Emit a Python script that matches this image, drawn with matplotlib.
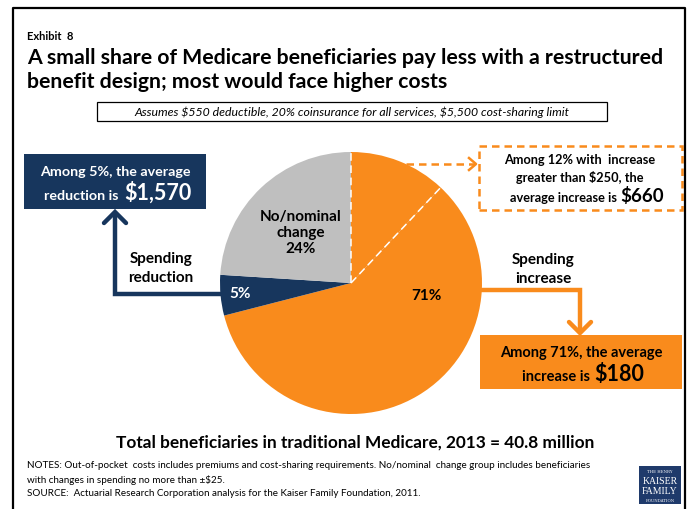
import matplotlib
matplotlib.use("Agg")
import matplotlib.pyplot as plt
import numpy as np
from matplotlib.patches import Rectangle

plt.rcParams["font.family"] = ["Lato", "DejaVu Sans"]
plt.rcParams["text.parse_math"] = False

# data
slice_labels = ["Increase > $250", "Increase <= $250", "Spending reduction", "No/nominal change"]
slice_shares = [12, 59, 5, 24]
slice_colors = ["#F98B1C", "#F98B1C", "#17365D", "#BFBFBF"]
group_pct = {"increase": 71, "reduction": 5, "none": 24, "large_increase": 12}
avg_change = {"reduction": "$1,570", "large_increase": "$660", "increase": "$180"}
total_text = "Total beneficiaries in traditional Medicare, 2013 = 40.8 million"

ORANGE = "#F98B1C"
NAVY = "#17365D"
H = 510


def Y(y):
    return H - y


def main() -> None:
    fig = plt.figure(figsize=(6.9, 5.1), dpi=100)
    ax = fig.add_axes([0, 0, 1, 1])

    cx, cy, r = 351, Y(284), 131
    wedges, _ = ax.pie(slice_shares, colors=slice_colors, startangle=90, counterclock=False,
                       center=(cx, cy), radius=r, wedgeprops=dict(linewidth=0))
    ax.set_xlim(0, 690)
    ax.set_ylim(0, 510)
    ax.set_aspect("equal")
    ax.axis("off")

    # dashed white borders of the >$250 sub-slice
    for ang in (wedges[0].theta1, wedges[0].theta2):
        t = np.radians(ang)
        ax.plot([cx, cx + r * np.cos(t)], [cy, cy + r * np.sin(t)], color="white",
                lw=1.1, ls=(0, (5, 3)))

    # frame
    ax.plot([13, 13, 685, 685], [0, Y(9), Y(9), 0], color="black", lw=1.6, clip_on=False)

    ax.text(27, Y(37), "Exhibit  8", fontsize=8, fontweight="bold", va="center")
    ax.text(27, Y(58), "A small share of Medicare beneficiaries pay less with a restructured",
            fontsize=15.3, fontweight="bold", va="center")
    ax.text(27, Y(82), "benefit design; most would face higher costs",
            fontsize=15.3, fontweight="bold", va="center")

    ax.add_patch(Rectangle((97, Y(122)), 510, 19, facecolor="white", edgecolor="black", lw=0.9))
    ax.text(352, Y(112.5), "Assumes $550 deductible, 20% coinsurance for all services, $5,500 cost-sharing limit",
            fontsize=8.8, style="italic", ha="center", va="center")

    # pie labels
    ax.text(301, Y(233), f"No/nominal\nchange\n{group_pct['none']}%", fontsize=11, fontweight="bold",
            ha="center", va="center", linespacing=1.2)
    ax.text(240, Y(294), f"{group_pct['reduction']}%", fontsize=11, fontweight="bold", color="white",
            ha="center", va="center")
    ax.text(426, Y(296), f"{group_pct['increase']}%", fontsize=11, fontweight="bold",
            ha="center", va="center")

    # reduction box + arrow
    ax.add_patch(Rectangle((24, Y(210)), 182, 55, facecolor=NAVY, edgecolor="none"))
    ax.text(115, Y(172), f"Among {group_pct['reduction']}%, the average", fontsize=10.3,
            fontweight="bold", color="white", ha="center", va="center")
    ax.text(119, Y(200), "reduction is", fontsize=10.3, fontweight="bold", color="white",
            ha="right", va="baseline")
    ax.text(124, Y(200), avg_change["reduction"], fontsize=15.5, fontweight="bold", color="white",
            ha="left", va="baseline")
    ax.plot([224, 115, 115], [Y(295), Y(295), Y(218)], color=NAVY, lw=3.2,
            solid_joinstyle="miter")
    ax.plot([104, 115, 126], [Y(224), Y(213), Y(224)], color=NAVY, lw=3.2,
            solid_joinstyle="miter", solid_capstyle="round")
    ax.text(161, Y(268.5), "Spending\nreduction", fontsize=11, fontweight="bold",
            ha="center", va="center", linespacing=1.5)

    # large increase dashed box + arrow
    ax.add_patch(Rectangle((479, Y(211)), 203, 64, facecolor="none", edgecolor=ORANGE,
                           lw=1.8, ls=(0, (3, 2))))
    ax.text(580, Y(160), f"Among {group_pct['large_increase']}% with  increase", fontsize=9.2,
            fontweight="bold", ha="center", va="center")
    ax.text(580, Y(178), "greater than $250, the", fontsize=9.2, fontweight="bold",
            ha="center", va="center")
    ax.text(617, Y(202), "average increase is", fontsize=9.2, fontweight="bold",
            ha="right", va="baseline")
    ax.text(620, Y(202), avg_change["large_increase"], fontsize=13.5, fontweight="bold",
            ha="left", va="baseline")
    ax.plot([406, 474], [Y(165), Y(165)], color=ORANGE, lw=1.8, ls=(0, (3, 2)))
    ax.plot([469, 476, 469], [Y(159), Y(165), Y(171)], color=ORANGE, lw=1.8)

    # increase box + arrow
    ax.add_patch(Rectangle((480, Y(390)), 202, 54, facecolor=ORANGE, edgecolor="none"))
    ax.text(581, Y(353), f"Among {group_pct['increase']}%, the average", fontsize=10.5,
            fontweight="bold", ha="center", va="center")
    ax.text(590, Y(381), "increase is", fontsize=10.5, fontweight="bold",
            ha="right", va="baseline")
    ax.text(594, Y(381), avg_change["increase"], fontsize=15.5, fontweight="bold",
            ha="left", va="baseline")
    ax.plot([483, 580, 580], [Y(291), Y(291), Y(330)], color=ORANGE, lw=3.2,
            solid_joinstyle="miter")
    ax.plot([569, 580, 591], [Y(323), Y(334), Y(323)], color=ORANGE, lw=3.2,
            solid_joinstyle="miter", solid_capstyle="round")
    ax.text(543, Y(269.5), "Spending\nincrease", fontsize=11, fontweight="bold",
            ha="center", va="center", linespacing=1.5)

    ax.text(355, Y(443), total_text, fontsize=12.4, fontweight="bold", ha="center", va="center")
    notes = ["NOTES: Out-of-pocket  costs includes premiums and cost-sharing requirements. No/nominal  change group includes beneficiaries",
             "with changes in spending no more than \u00b1$25.",
             "SOURCE:  Actuarial Research Corporation analysis for the Kaiser Family Foundation, 2011."]
    for i, line in enumerate(notes):
        ax.text(27, Y(466 + 14 * i), line, fontsize=7.1, va="center")

    # logo
    ax.add_patch(Rectangle((639, Y(505)), 42, 38, facecolor="#1F3A6B", edgecolor="none"))
    ax.text(660, Y(472), "THE HENRY", fontsize=2.8, color="white", ha="center", va="center",
            family="DejaVu Serif")
    ax.text(660, Y(482), "KAISER", fontsize=7, color="white", ha="center", va="center",
            family="Liberation Serif")
    ax.text(660, Y(492), "FAMILY", fontsize=7, color="white", ha="center", va="center",
            family="Liberation Serif")
    ax.text(660, Y(501), "FOUNDATION", fontsize=2.8, color="white", ha="center", va="center",
            family="DejaVu Serif")

    fig.savefig("out.png", dpi=100)


if __name__ == "__main__":
    main()
